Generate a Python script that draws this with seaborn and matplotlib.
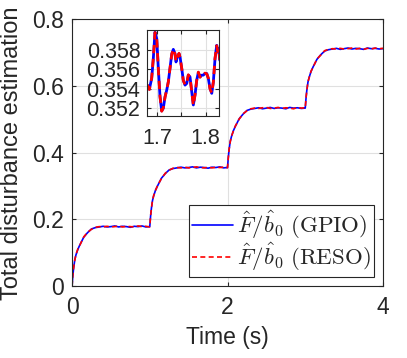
import matplotlib
matplotlib.use("Agg")
import numpy as np
import pandas as pd
import seaborn as sns
import matplotlib.pyplot as plt

# sampling instants inside each 1 s step (s)
step_offsets = [0, 0.01, 0.02, 0.035, 0.05, 0.075, 0.1, 0.15, 0.2, 0.25, 0.3, 0.35,
                0.4, 0.45, 0.5, 0.55, 0.6, 0.65, 0.7, 0.75, 0.8, 0.85, 0.9, 0.95, 0.995]
step_starts = [0, 1, 2, 3]
t_end = 4.0

# F/b0 estimate, one list per step
gpio_step1 = [0.000, 0.030, 0.053, 0.078, 0.093, 0.110, 0.123, 0.146, 0.160, 0.171, 0.175, 0.177,
              0.179, 0.177, 0.178, 0.180, 0.177, 0.179, 0.178, 0.176, 0.179, 0.178, 0.180, 0.177, 0.178]
gpio_step2 = [0.178, 0.208, 0.231, 0.256, 0.270, 0.288, 0.300, 0.323, 0.337, 0.348, 0.352, 0.354,
              0.356, 0.354, 0.355, 0.357, 0.354, 0.356, 0.355, 0.353, 0.356, 0.355, 0.357, 0.354, 0.355]
gpio_step3 = [0.355, 0.385, 0.408, 0.433, 0.447, 0.465, 0.478, 0.501, 0.515, 0.526, 0.530, 0.532,
              0.534, 0.531, 0.533, 0.535, 0.532, 0.534, 0.533, 0.531, 0.535, 0.533, 0.534, 0.532, 0.533]
gpio_step4 = [0.533, 0.563, 0.586, 0.611, 0.625, 0.643, 0.656, 0.679, 0.693, 0.704, 0.708, 0.710,
              0.712, 0.709, 0.711, 0.713, 0.710, 0.712, 0.711, 0.709, 0.713, 0.711, 0.712, 0.710, 0.711]
gpio_end = 0.711

reso_step1 = [0.000, 0.031, 0.054, 0.077, 0.094, 0.111, 0.122, 0.147, 0.161, 0.170, 0.176, 0.178,
              0.177, 0.179, 0.177, 0.178, 0.180, 0.177, 0.179, 0.178, 0.177, 0.180, 0.178, 0.179, 0.177]
reso_step2 = [0.178, 0.209, 0.230, 0.257, 0.271, 0.287, 0.301, 0.322, 0.338, 0.347, 0.353, 0.355,
              0.354, 0.356, 0.354, 0.355, 0.357, 0.355, 0.354, 0.356, 0.354, 0.356, 0.355, 0.356, 0.354]
reso_step3 = [0.355, 0.384, 0.409, 0.432, 0.448, 0.464, 0.479, 0.500, 0.516, 0.525, 0.531, 0.533,
              0.532, 0.534, 0.535, 0.532, 0.533, 0.535, 0.532, 0.534, 0.533, 0.531, 0.535, 0.533, 0.534]
reso_step4 = [0.533, 0.564, 0.585, 0.612, 0.624, 0.644, 0.655, 0.680, 0.692, 0.705, 0.709, 0.711,
              0.710, 0.712, 0.710, 0.711, 0.713, 0.710, 0.712, 0.709, 0.712, 0.710, 0.713, 0.711, 0.712]
reso_end = 0.711

# zoomed window 1.68 - 1.83 s
zoom_t = [1.6793, 1.6835, 1.6883, 1.6917, 1.6952, 1.6988, 1.7021, 1.7056, 1.7091, 1.7124,
          1.7160, 1.7195, 1.7228, 1.7263, 1.7299, 1.7332, 1.7367, 1.7388, 1.7415, 1.7450,
          1.7471, 1.7506, 1.7539, 1.7575, 1.7610, 1.7643, 1.7678, 1.7714, 1.7747, 1.7782,
          1.7817, 1.7851, 1.7886, 1.7921, 1.7954, 1.7989, 1.8025, 1.8058, 1.8093, 1.8129,
          1.8162, 1.8197, 1.8232, 1.8253, 1.8274, 1.8295]
zoom_gpio = [0.35437, 0.35396, 0.35505, 0.35708, 0.35979, 0.35912, 0.35607, 0.35318, 0.35173, 0.35200,
             0.35318, 0.35386, 0.35471, 0.35607, 0.35756, 0.35803, 0.35759, 0.35674, 0.35725, 0.35759,
             0.35725, 0.35607, 0.35488, 0.35437, 0.35454, 0.35539, 0.35521, 0.35369, 0.35234, 0.35335,
             0.35488, 0.35566, 0.35521, 0.35539, 0.35539, 0.35556, 0.35556, 0.35505, 0.35403, 0.35353,
             0.35471, 0.35708, 0.35844, 0.35776, 0.35810, 0.35691]
zoom_reso = [0.35440, 0.35392, 0.35510, 0.35712, 0.35975, 0.35915, 0.35600, 0.35322, 0.35170, 0.35205,
             0.35314, 0.35390, 0.35468, 0.35610, 0.35752, 0.35806, 0.35755, 0.35678, 0.35721, 0.35762,
             0.35720, 0.35611, 0.35484, 0.35441, 0.35450, 0.35543, 0.35517, 0.35373, 0.35230, 0.35339,
             0.35484, 0.35570, 0.35517, 0.35543, 0.35535, 0.35560, 0.35552, 0.35509, 0.35399, 0.35357,
             0.35467, 0.35712, 0.35840, 0.35780, 0.35806, 0.35695]

t_main = [s + o for s in step_starts for o in step_offsets] + [t_end]
gpio = gpio_step1 + gpio_step2 + gpio_step3 + gpio_step4 + [gpio_end]
reso = reso_step1 + reso_step2 + reso_step3 + reso_step4 + [reso_end]

sns.set_theme(style="ticks")
plt.rcParams['font.family'] = ['Liberation Sans', 'DejaVu Sans']
plt.rcParams['mathtext.fontset'] = 'cm'

dark = (0.15, 0.15, 0.15)
grid_c = (0.88, 0.88, 0.88)
fs = 16.5

fig = plt.figure(figsize=(4.07, 3.58), dpi=100)
ax = fig.add_axes([0.177, 0.201, 0.764, 0.746])

sns.lineplot(x=t_main, y=gpio, ax=ax, color=(0, 0, 1), lw=1.2,
             label=r'$\hat{F}/\hat{b}_0\ \mathrm{(GPIO)}$')
sns.lineplot(x=t_main, y=reso, ax=ax, color=(1, 0, 0), lw=1.2,
             label=r'$\hat{F}/\hat{b}_0\ \mathrm{(RESO)}$')
ax.lines[1].set_dashes((3.0, 2.0))

ax.set_xlim(0, 4)
ax.set_ylim(0, 0.8)
ax.set_xticks([0, 2, 4])
ax.set_yticks([0, 0.2, 0.4, 0.6, 0.8])
ax.set_yticklabels(['0', '0.2', '0.4', '0.6', '0.8'])
ax.grid(True, color=grid_c, lw=0.8)
ax.set_axisbelow(True)
for sp in ax.spines.values():
    sp.set_visible(True)
    sp.set_color(dark)
    sp.set_linewidth(0.8)
ax.tick_params(direction='in', length=3, width=0.8, color=dark, labelcolor=dark,
               labelsize=fs, top=True, right=True)
ax.tick_params(axis='x', pad=7)
ax.tick_params(axis='y', pad=6)
ax.set_xlabel('Time (s)', fontsize=fs, color=dark, labelpad=5)
ax.set_ylabel('Total disturbance estimation', fontsize=17, color=dark)
ax.yaxis.set_label_coords(-0.158, 0.497)

leg = ax.legend(loc='lower right', fontsize=fs, frameon=True, fancybox=False,
                handlelength=1.8, handletextpad=0.15, borderpad=0.15, labelspacing=0.0,
                borderaxespad=0.4)
leg.get_frame().set_edgecolor(dark)
leg.get_frame().set_linewidth(0.8)
leg.get_frame().set_facecolor('white')
leg.get_frame().set_alpha(1)
leg.get_lines()[1].set_dashes((3.0, 2.0))

ins = fig.add_axes([0.362, 0.677, 0.177, 0.239])
sns.lineplot(x=zoom_t, y=zoom_gpio, ax=ins, color=(0, 0, 1), lw=2.0)
sns.lineplot(x=zoom_t, y=zoom_reso, ax=ins, color=(1, 0, 0), lw=2.0)
ins.lines[1].set_dashes((3.0, 2.0))
ins.set_xlim(1.6793, 1.8287)
ins.set_ylim(0.35125, 0.36)
ins.set_xticks([1.7, 1.75, 1.8])
ins.set_xticklabels(['1.7', '', '1.8'])
ins.set_yticks([0.352, 0.354, 0.356, 0.358])
ins.set_yticklabels(['0.352', '0.354', '0.356', '0.358'])
ins.grid(True, color=grid_c, lw=0.8)
ins.set_axisbelow(True)
for sp in ins.spines.values():
    sp.set_visible(True)
    sp.set_color(dark)
    sp.set_linewidth(0.8)
ins.tick_params(direction='in', length=3, width=0.8, color=dark, labelcolor=dark,
                labelsize=fs - 1, top=True, right=True)
ins.tick_params(axis='x', pad=9)
ins.tick_params(axis='y', pad=5)
ins.set_xlabel('')
ins.set_ylabel('')

fig.savefig('out.png', dpi=100)
